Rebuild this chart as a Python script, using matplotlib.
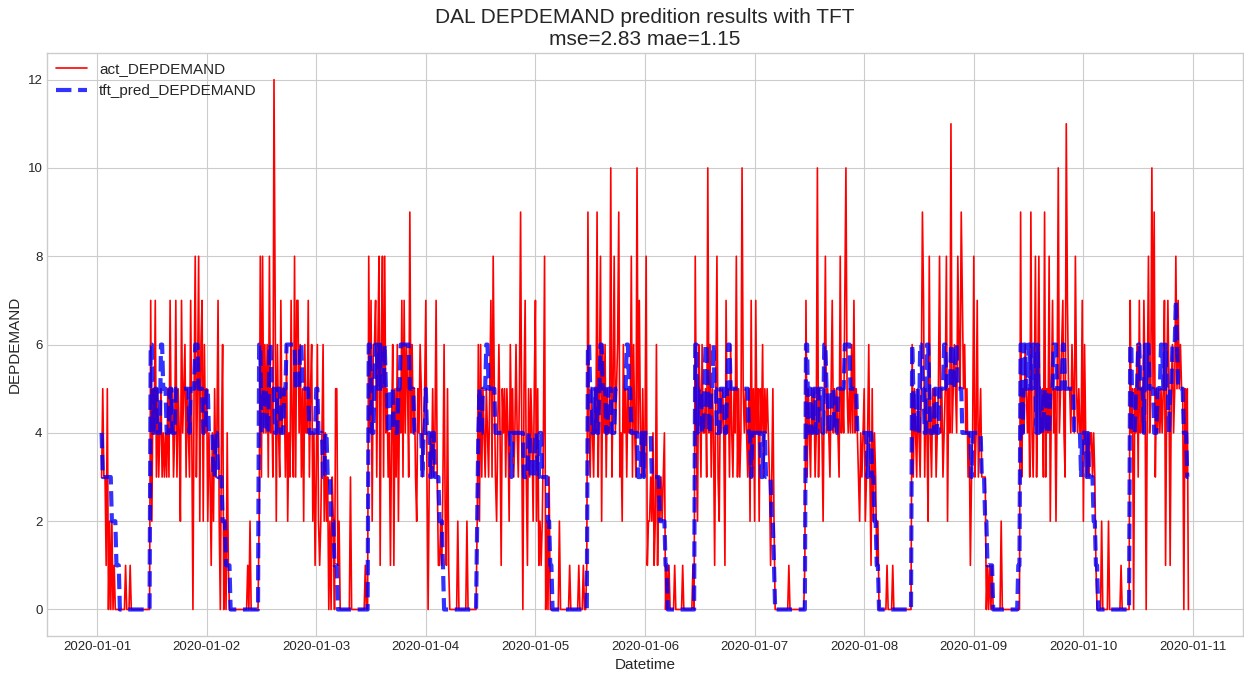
import matplotlib
matplotlib.use('Agg')
import matplotlib.pyplot as plt
import matplotlib.dates as mdates
import pandas as pd

# 15 minute samples, one string per day, one hex digit per sample (a=10, b=11, c=12)
# the first day starts at 01:00, the last one stops at 23:00
act_days = [
    "3533 1502 0201 0000 0000 0100 0100 0000 0000 0000 0007 2547 3534 5343 4353 7453 4735 4274 5635 4374 0583 5826 7264",
    "5243 1425 3472 0460 2041 0000 0000 0000 0000 1020 0000 0028 3846 4638 453c 7264 3745 5362 4374 3837 7463 5264 4735 6241",
    "3621 2462 4230 2032 0551 2000 0000 0030 0000 0000 0001 0084 7266 7368 1683 8453 4146 1536 2547 3746 5394 6453 2546 5345",
    "7303 4353 4731 1213 6215 1000 0000 2000 0000 2000 0000 0262 6354 3543 5738 5324 6415 4535 4264 5346 4359 4057 3153 5425",
    "7251 2124 8020 3000 0000 0200 0000 0010 0000 0010 0010 0194 3543 5493 5826 4635 44a3 5845 6934 2645 3544 8364 3a47 4353",
    "4812 2324 1261 3232 3401 0100 0010 0000 0100 0000 0010 8426 5364 453a 4635 4158 3254 5417 4536 4354 8353 4a54 5435 2735",
    "2745 2546 3545 4313 5200 0000 0000 0010 0000 0000 0000 1735 4354 534a 3544 2584 5435 7454 5438 4547 a545 4647 4543 2434",
    "5234 6315 2431 2000 0000 1000 0100 0000 0000 0000 0063 5435 4359 7354 2843 5453 4584 5345 8254 b456 5486 5975 6453 4134",
    "8347 3453 3330 1010 1000 0000 2000 0000 0000 0000 0935 4654 5394 3583 5844 5393 5482 5745 25a4 5674 3b75 5465 4854 5447",
    "2643 4344 3431 0000 2000 0020 0000 0000 0100 0000 0745 0546 3745 4750 5845 a593 5454 5457 1575 1564 5857 5655 0535 0",
]

pred_days = [
    "4333 3333 3222 2111 0000 0000 0000 0000 0000 0000 0006 6445 5444 6655 5444 5544 4555 5555 5555 5455 5566 6555 5444",
    "5544 4433 4433 3322 2111 1000 0000 0000 0000 0000 0000 0066 4455 5446 6555 4455 5444 5566 6666 6655 5566 5555 5544 4444",
    "5544 4433 4433 3222 1110 0000 0000 0000 0000 0000 0000 0066 5445 6655 6555 6554 4555 4444 5566 6666 6655 5544 4444 4344",
    "5444 3344 3333 2221 0000 0000 0000 0000 0000 0000 0000 0245 4455 5665 5555 5444 4444 4444 4443 4444 4444 4433 3344 3333",
    "4433 4433 3332 2110 0000 0000 0000 0000 0000 0000 0000 0066 5544 5544 5665 5544 5554 4455 5555 5555 6655 4444 4433 3443",
    "4444 4433 3333 3222 2211 0000 0000 0000 0000 0000 0000 6645 5544 5665 4455 6554 4455 5544 5665 5555 5555 5555 5554 4344",
    "4444 4433 4433 3332 2100 0000 0000 0000 0000 0000 0000 0664 5544 5544 5555 4665 5444 5544 4555 5556 6666 5555 5544 4444",
    "4443 4443 3221 1000 0000 0000 0000 0000 0000 0000 0065 4455 4665 5446 6544 4455 4455 5566 5555 6655 6655 5544 4444 4434",
    "4444 4443 3322 1111 1000 0000 0000 0000 0000 0001 1664 6655 6655 6654 6455 4455 4445 5566 6555 5566 5555 5555 4444 4434",
    "4443 4333 3221 1000 0000 0000 0000 0000 0000 0000 0664 4455 6655 5465 6655 5544 4555 6655 6554 5566 6765 5555 4443 3",
]

act_vals = [int(c, 16) for d in act_days for c in d.replace(" ", "")]
pred_vals = [int(c, 16) for d in pred_days for c in d.replace(" ", "")]
n = min(len(act_vals), len(pred_vals))
act_vals = act_vals[:n]
pred_vals = pred_vals[:n]

dt = pd.date_range("2020-01-01 01:00", periods=n, freq="15min")

plt.style.use('seaborn-v0_8-whitegrid')
plt.rcParams['font.family'] = ['Liberation Sans', 'DejaVu Sans']

fig, ax = plt.subplots(figsize=(12.44, 6.73), dpi=100)
fig.subplots_adjust(left=0.038, right=0.999, top=0.921, bottom=0.055)

ax.plot(dt, act_vals, color='red', linewidth=1.2, label='act_DEPDEMAND')
ax.plot(dt, pred_vals, color='blue', linestyle='--', linewidth=3, alpha=0.8, label='tft_pred_DEPDEMAND')

ax.xaxis.set_major_locator(mdates.DayLocator())
ax.xaxis.set_major_formatter(mdates.DateFormatter('%Y-%m-%d'))
ax.tick_params(labelsize=9.5)

ax.set_title('DAL DEPDEMAND predition results with TFT\nmse=2.83 mae=1.15', fontsize=15)
ax.set_xlabel('Datetime', fontsize=11)
ax.set_ylabel('DEPDEMAND', fontsize=11)
ax.legend(loc='upper left', fontsize=11, borderaxespad=0.2)

plt.savefig('out.png', dpi=100)
